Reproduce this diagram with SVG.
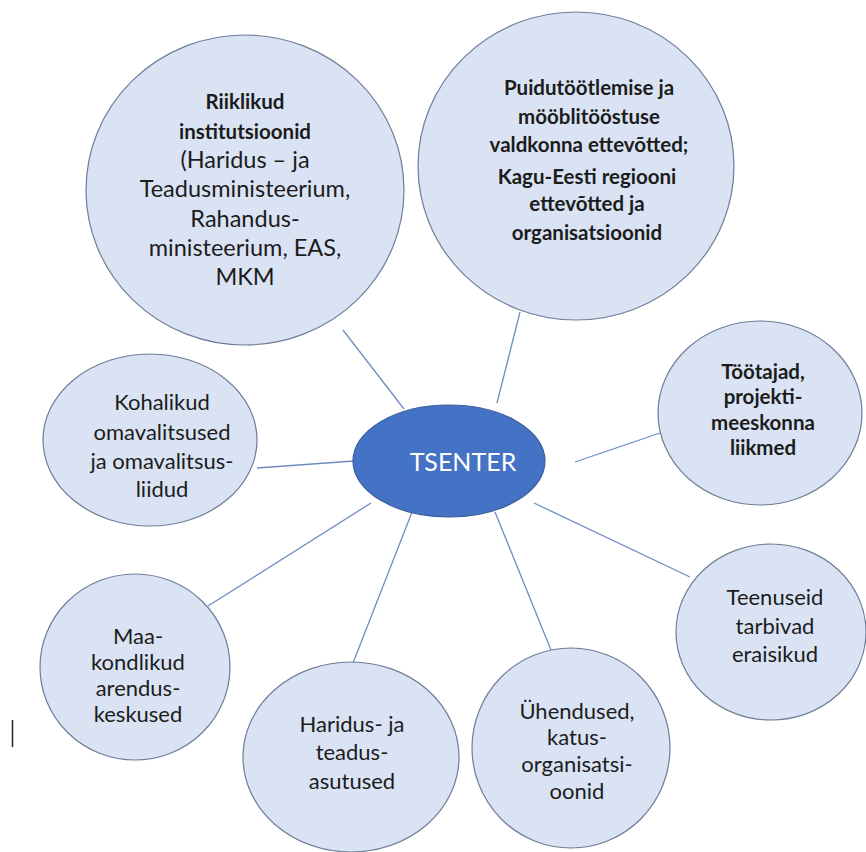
<svg xmlns="http://www.w3.org/2000/svg" width="866" height="852" viewBox="0 0 866 852">
  <style>
    .bubble { fill: #dae3f3; stroke: #6e7d99; stroke-width: 1.2; }
    .hub { fill: #4472c4; stroke: #3b5f9e; stroke-width: 1.2; }
    .link { stroke: #6f8cc0; stroke-width: 1.3; fill: none; }
    .t { font-family: Lato, "Liberation Sans", sans-serif; font-size: 22px; fill: #1c1c1c; text-anchor: middle; }
    .b { font-weight: bold; font-size: 20.5px; }
    .lg { font-size: 23.5px; }
    .hubtext { font-family: Lato, "Liberation Sans", sans-serif; font-size: 25px; fill: #ffffff; text-anchor: middle; }
  </style>
  <rect width="866" height="852" fill="#ffffff"/>

  <!-- spokes from the hub to each bubble -->
  <g id="connectors">
    <line class="link" x1="343" y1="330" x2="404" y2="409"/>
    <line class="link" x1="520" y1="312" x2="497" y2="403"/>
    <line class="link" x1="660" y1="433" x2="575" y2="462"/>
    <line class="link" x1="690" y1="577" x2="534" y2="503"/>
    <line class="link" x1="551" y1="650" x2="495" y2="512"/>
    <line class="link" x1="353" y1="663" x2="414" y2="507"/>
    <line class="link" x1="208" y1="606" x2="371" y2="503"/>
    <line class="link" x1="257" y1="468" x2="354" y2="461"/>
  </g>

  <g id="riiklikud">
    <ellipse class="bubble" cx="245" cy="190" rx="159" ry="155"/>
    <text class="t b" x="245" y="109">Riiklikud</text>
    <text class="t b" x="245" y="139">institutsioonid</text>
    <text class="t lg" x="245" y="168">(Haridus – ja</text>
    <text class="t lg" x="245" y="197">Teadusministeerium,</text>
    <text class="t lg" x="245" y="227">Rahandus-</text>
    <text class="t lg" x="245" y="256">ministeerium, EAS,</text>
    <text class="t lg" x="245" y="285">MKM</text>
  </g>

  <g id="puidu">
    <ellipse class="bubble" cx="576" cy="166" rx="158" ry="154"/>
    <text class="t b" x="589" y="95">Puidutöötlemise ja</text>
    <text class="t b" x="589" y="124">mööblitööstuse</text>
    <text class="t b" x="589" y="152">valdkonna ettevõtted;</text>
    <text class="t b" x="587" y="184">Kagu-Eesti regiooni</text>
    <text class="t b" x="587" y="211">ettevõtted ja</text>
    <text class="t b" x="587" y="240">organisatsioonid</text>
  </g>

  <g id="tsenter">
    <ellipse class="hub" cx="449" cy="461" rx="96" ry="56"/>
    <text class="hubtext" x="463" y="471">TSENTER</text>
  </g>

  <g id="tootajad">
    <ellipse class="bubble" cx="760" cy="413" rx="102" ry="92"/>
    <text class="t b" x="763" y="379">Töötajad,</text>
    <text class="t b" x="763" y="404">projekti-</text>
    <text class="t b" x="763" y="430">meeskonna</text>
    <text class="t b" x="763" y="455">liikmed</text>
  </g>

  <g id="teenuseid">
    <ellipse class="bubble" cx="771" cy="632" rx="95" ry="88"/>
    <text class="t" x="775" y="605">Teenuseid</text>
    <text class="t" x="775" y="634">tarbivad</text>
    <text class="t" x="775" y="662">eraisikud</text>
  </g>

  <g id="uhendused">
    <ellipse class="bubble" cx="571" cy="748" rx="99" ry="100"/>
    <text class="t" x="577" y="719">Ühendused,</text>
    <text class="t" x="577" y="745">katus-</text>
    <text class="t" x="577" y="772">organisatsi-</text>
    <text class="t" x="577" y="799">oonid</text>
  </g>

  <g id="haridus">
    <ellipse class="bubble" cx="351" cy="757" rx="108" ry="95"/>
    <text class="t" x="352" y="732">Haridus- ja</text>
    <text class="t" x="352" y="760">teadus-</text>
    <text class="t" x="352" y="789">asutused</text>
  </g>

  <g id="maakondlikud">
    <ellipse class="bubble" cx="135" cy="667" rx="95" ry="93"/>
    <text class="t" x="138" y="644">Maa-</text>
    <text class="t" x="138" y="670">kondlikud</text>
    <text class="t" x="138" y="696">arendus-</text>
    <text class="t" x="138" y="722">keskused</text>
  </g>

  <g id="kohalikud">
    <ellipse class="bubble" cx="150" cy="440" rx="107" ry="86"/>
    <text class="t" x="162" y="410">Kohalikud</text>
    <text class="t" x="162" y="440">omavalitsused</text>
    <text class="t" x="162" y="469">ja omavalitsus-</text>
    <text class="t" x="162" y="497">liidud</text>
  </g>

  <!-- stray caret mark at the left margin -->
  <line x1="12.5" y1="720" x2="12.5" y2="747" stroke="#222" stroke-width="1.5"/>
</svg>
